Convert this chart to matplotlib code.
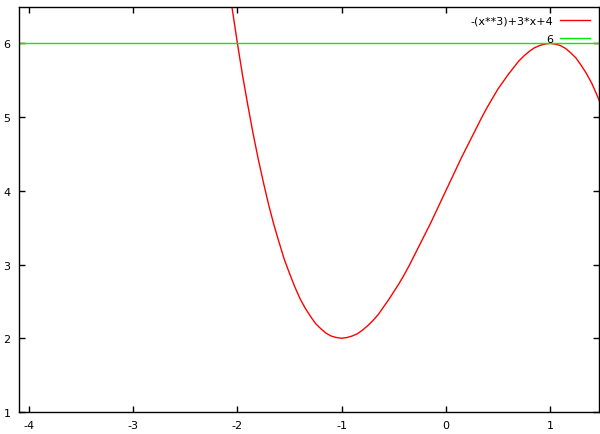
import matplotlib
matplotlib.use('Agg')
import matplotlib.pyplot as plt

# values
x_vals = [-2.10, -2.05, -2.00, -1.95, -1.90, -1.85, -1.80, -1.75, -1.70, -1.65,
          -1.60, -1.55, -1.50, -1.45, -1.40, -1.35, -1.30, -1.25, -1.20, -1.15,
          -1.10, -1.05, -1.00, -0.95, -0.90, -0.85, -0.80, -0.75, -0.70, -0.65,
          -0.60, -0.55, -0.50, -0.45, -0.40, -0.35, -0.30, -0.25, -0.20, -0.15,
          -0.10, -0.05, 0.00, 0.05, 0.10, 0.15, 0.20, 0.25, 0.30, 0.35,
          0.40, 0.45, 0.50, 0.55, 0.60, 0.65, 0.70, 0.75, 0.80, 0.85,
          0.90, 0.95, 1.00, 1.05, 1.10, 1.15, 1.20, 1.25, 1.30, 1.35,
          1.40, 1.45, 1.50]
y_vals = [6.96, 6.47, 6.00, 5.56, 5.16, 4.78, 4.43, 4.11, 3.81, 3.54,
          3.30, 3.07, 2.88, 2.70, 2.54, 2.41, 2.30, 2.20, 2.13, 2.07,
          2.03, 2.01, 2.00, 2.01, 2.03, 2.06, 2.11, 2.17, 2.24, 2.32,
          2.42, 2.52, 2.63, 2.74, 2.86, 2.99, 3.13, 3.27, 3.41, 3.55,
          3.70, 3.85, 4.00, 4.15, 4.30, 4.45, 4.59, 4.73, 4.87, 5.01,
          5.14, 5.26, 5.38, 5.48, 5.58, 5.67, 5.76, 5.83, 5.89, 5.94,
          5.97, 5.99, 6.00, 5.99, 5.97, 5.93, 5.87, 5.80, 5.70, 5.59,
          5.46, 5.30, 5.13]
level = 6

x_ticks = [-4, -3, -2, -1, 0, 1]
y_ticks = [1, 2, 3, 4, 5, 6]

plt.rcParams['font.family'] = ['DejaVu Sans']
plt.rcParams['font.size'] = 8
plt.rcParams['axes.unicode_minus'] = False

fig = plt.figure(figsize=(6, 4.35), dpi=100)
ax = fig.add_axes([19 / 600, 22 / 435, 580 / 600, 405.5 / 435])

ax.plot(x_vals, y_vals, color='#ff0000', lw=1, label='-(x**3)+3*x+4')
ax.axhline(level, color='#00ee00', lw=1, label='6')

ax.set_xlim(-4.096, 1.47)
ax.set_ylim(1, 6.5)
ax.set_xticks(x_ticks)
ax.set_yticks(y_ticks)
ax.tick_params(direction='in', top=True, right=True, length=4, width=1,
               labelsize=8, pad=6)
for s in ax.spines.values():
    s.set_linewidth(1)

ax.legend(loc='upper right', frameon=False, markerfirst=False,
          handlelength=2.7, handletextpad=0.6, labelspacing=0.75,
          borderaxespad=0.4, fontsize=8)

fig.savefig('out.png', dpi=100)
